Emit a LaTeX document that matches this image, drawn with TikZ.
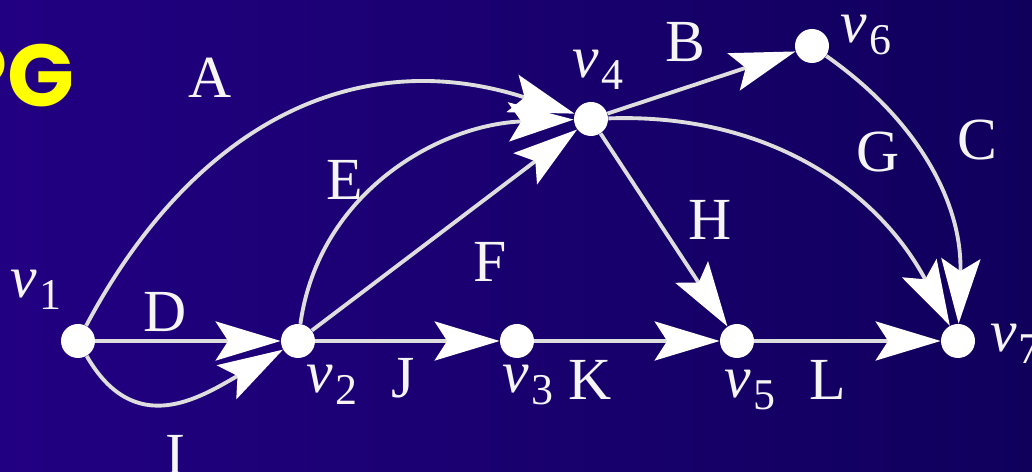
\documentclass[tikz,border=0pt]{standalone}
\usepackage{fontspec}
\setmainfont{Liberation Serif}
\newfontfamily\pgfont{Poppins}
\usetikzlibrary{arrows.meta}
\newcommand\vsub[1]{\textit{v}\kern0.03em\raisebox{-0.45ex}{\fontsize{25}{25}\selectfont #1}}
\definecolor{bgleft}{RGB}{34,0,130}
\definecolor{bgright}{RGB}{16,0,92}
\definecolor{edgec}{RGB}{222,222,222}
\definecolor{pgyellow}{RGB}{255,255,0}
\tikzset{
  vert/.style={circle,fill=white,draw=none,inner sep=0pt,minimum size=0.68cm},
  lbl/.style={text=white!92!gray,font=\fontsize{34}{34}\selectfont,inner sep=0pt},
  vlbl/.style={text=white!92!gray,font=\fontsize{34}{34}\selectfont,inner sep=0pt},
  edge/.style={draw=edgec,line width=2.2pt,-{Stealth[length=1.3cm,width=0.78cm,inset=0.25cm,fill=white,color=white]}},
}
\begin{document}
\begin{tikzpicture}[x=0.02cm,y=0.02cm]
\shade[left color=bgleft,right color=bgright] (0,0) rectangle (1032,472);
\useasboundingbox (0,0) rectangle (1032,472);
\begin{scope}
\clip (0,0) rectangle (1032,472);
\node[anchor=east,text=pgyellow,font=\pgfont\bfseries\fontsize{50}{50}\selectfont,inner sep=0pt] (pg) at (75,396) {PG};
\node (v1) [vert] at (78,131) {};
\node (v2) [vert] at (298,131) {};
\node (v3) [vert] at (517,131) {};
\node (v4) [vert] at (591,353) {};
\node (v5) [vert] at (737,131) {};
\node (v6) [vert] at (812,426) {};
\node (v7) [vert] at (958,131) {};
\node (lv1) [vlbl] at (36,182) {\vsub{1}};
\node (lv2) [vlbl] at (332,87) {\vsub{2}};
\node (lv3) [vlbl] at (528,87) {\vsub{3}};
\node (lv4) [vlbl] at (598,402) {\vsub{4}};
\node (lv5) [vlbl] at (750,82) {\vsub{5}};
\node (lv6) [vlbl] at (866,437) {\vsub{6}};
\node (lv7) [vlbl,anchor=west] at (990,128) {\vsub{7}};
\node (lA) [lbl] at (210,394) {A};
\node (lB) [lbl] at (685,430) {B};
\node (lC) [lbl] at (977,332) {C};
\node (lD) [lbl] at (165,160) {D};
\node (lE) [lbl] at (345,292) {E};
\node (lF) [lbl] at (490,210) {F};
\node (lG) [lbl] at (878,320) {G};
\node (lH) [lbl] at (710,252) {H};
\node (lI) [lbl] at (175,17) {I};
\node (lJ) [lbl] at (403,94) {J};
\node (lK) [lbl] at (590,92) {K};
\node (lL) [lbl] at (828,92) {L};
\draw[edge] (v1) -- (v2);
\draw[edge] (v2) -- (v3);
\draw[edge] (v3) -- (v5);
\draw[edge] (v5) -- (v7);
\draw[edge] (v2) -- (v4);
\draw[edge] (v4) -- (v5);
\draw[edge] (v4) -- (v6);
\draw[edge] (v1) to[out=62,in=162,looseness=1.1] (v4);
\draw[edge] (v2) to[out=82,in=182] (v4);
\draw[edge] (v4) to[out=2,in=118] (v7);
\draw[edge] (v6) to[out=-35,in=88] (v7);
\draw[edge] (v1) to[out=-60,in=-150,looseness=1.25] (v2);
\end{scope}
\end{tikzpicture}
\end{document}
